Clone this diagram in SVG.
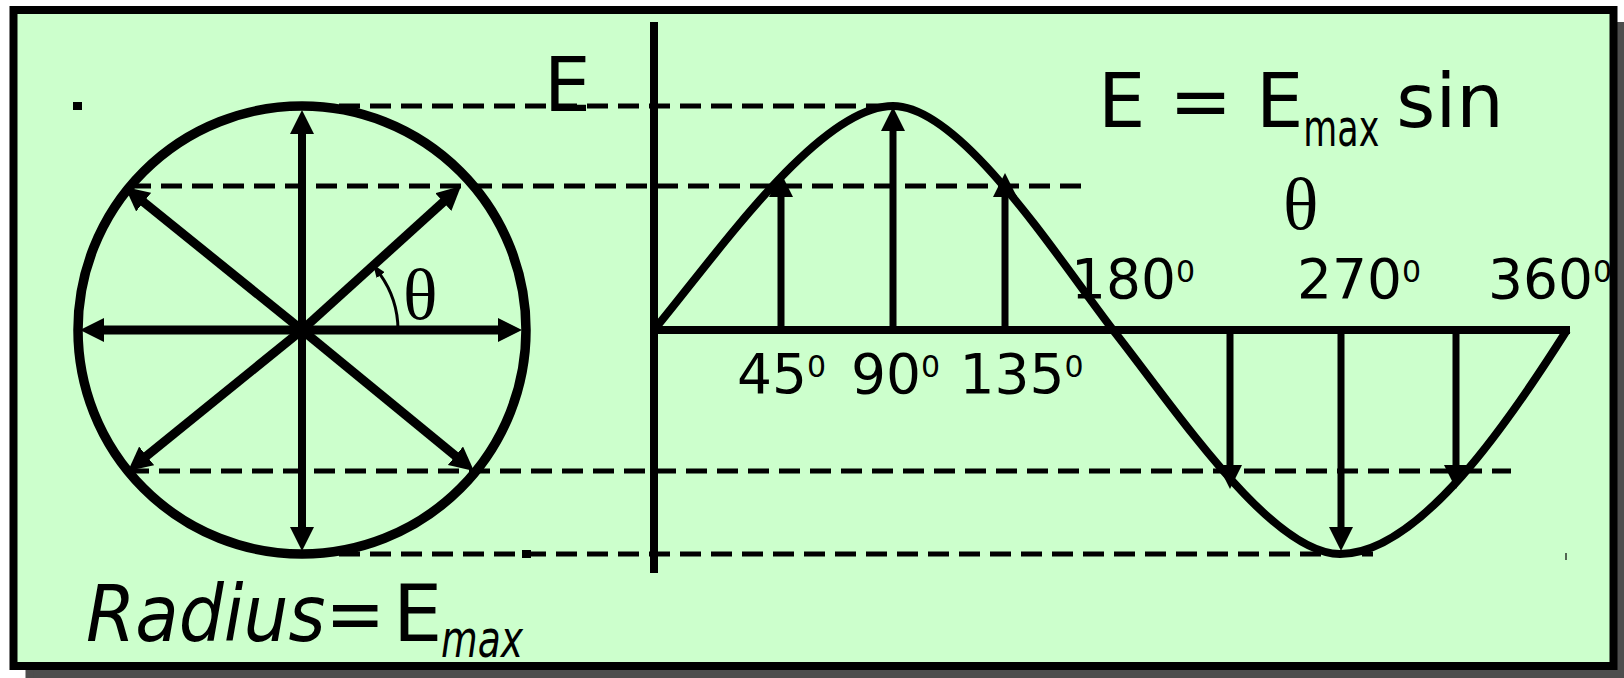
<svg xmlns="http://www.w3.org/2000/svg" width="1624" height="678" viewBox="0 0 1624 678">
<style>
.dash{stroke:#000;stroke-width:5;stroke-dasharray:21 10;fill:none}
.arr{stroke:#000;stroke-width:9;fill:none;marker-end:url(#ah)}
.warr{stroke:#000;stroke-width:7;fill:none;marker-end:url(#ah)}
.axis{stroke:#000;stroke-width:8;fill:none}
.t{font-family:"DejaVu Sans",sans-serif;fill:#000}
.g{font-family:"Liberation Serif",serif;fill:#000}
</style>
<defs>
<marker id="ah" viewBox="0 0 24 24" markerWidth="24" markerHeight="24" markerUnits="userSpaceOnUse" refX="1" refY="12" orient="auto"><path d="M0,0 L24,12 L0,24 z" fill="#000"/></marker>
<marker id="ahs" viewBox="0 0 13 10" markerWidth="13" markerHeight="10" markerUnits="userSpaceOnUse" refX="1" refY="5" orient="auto"><path d="M0,0 L13,5 L0,10 z" fill="#000"/></marker>
</defs>
<g id="frame">
<rect x="29.5" y="26" width="1600" height="656" fill="#4d4d4d" stroke="#4d4d4d" stroke-width="8"/>
<rect x="13.5" y="10" width="1600" height="656" fill="#ccffcc" stroke="#000" stroke-width="8"/>
</g>
<g id="phasor-circle">
<circle cx="302" cy="330" r="224" fill="none" stroke="#000" stroke-width="9.5"/>
</g>
<g id="connectors">
<line class="dash" x1="339" y1="106" x2="885" y2="106"/>
<line class="dash" x1="130" y1="186" x2="1088" y2="186"/>
<line class="dash" x1="128" y1="471" x2="1511" y2="471"/>
<line class="dash" x1="339" y1="554" x2="1373" y2="554"/>
<rect x="73" y="102" width="9" height="8" fill="#000"/>
<rect x="522" y="550" width="9" height="8" fill="#000"/>
<line x1="1566" y1="553" x2="1566" y2="560" stroke="#000" stroke-width="1.2"/>
<line class="arr" x1="302" y1="330" x2="302" y2="133" style="stroke-width:8"/>
<line class="arr" x1="302" y1="330" x2="302" y2="528" style="stroke-width:8"/>
<line class="arr" x1="302" y1="330" x2="499" y2="330"/>
<line class="arr" x1="302" y1="330" x2="103" y2="330"/>
<line class="arr" x1="302" y1="330" x2="444" y2="201.4"/>
<line class="arr" x1="302" y1="330" x2="142.9" y2="201.5"/>
<line class="arr" x1="302" y1="330" x2="145.9" y2="456.5"/>
<line class="arr" x1="302" y1="330" x2="456.2" y2="456.4"/>
<path d="M398,330 A96,96 0 0,0 380.1,274.3" fill="none" stroke="#000" stroke-width="3" marker-end="url(#ahs)"/>
<line class="warr" x1="781" y1="330" x2="781" y2="196"/>
<line class="warr" x1="893" y1="330" x2="893" y2="130"/>
<line class="warr" x1="1005" y1="330" x2="1005" y2="196"/>
<line class="warr" x1="1230" y1="330" x2="1230" y2="466"/>
<line class="warr" x1="1341" y1="330" x2="1341" y2="528"/>
<line class="warr" x1="1456" y1="330" x2="1456" y2="466"/>
</g>
<g id="wave">
<line class="axis" x1="654" y1="22" x2="654" y2="573"/>
<line class="axis" x1="654" y1="330" x2="1570" y2="330"/>
<path d="M654,330 C720,250 820,106 893,106 C960,106 1052,250 1113,330 C1176,410 1271,554 1340,554 C1420,554 1510,420 1567,330" fill="none" stroke="#000" stroke-width="8"/>
</g>
<g id="labels">
<text class="t" x="544" y="111" font-size="74">E</text>
<text class="t" x="1098" y="127" font-size="75" xml:space="preserve">E = E<tspan font-size="51" dy="19" textLength="76" lengthAdjust="spacingAndGlyphs">max</tspan><tspan dx="17" dy="-19">sin</tspan></text>
<text class="g" x="1283" y="229" font-size="74">θ</text>
<text class="g" x="403" y="319" font-size="72">θ</text>
<text class="t" x="737" y="393" font-size="55">45<tspan font-size="30" dy="-16">0</tspan></text>
<text class="t" x="851" y="393" font-size="55">90<tspan font-size="30" dy="-16">0</tspan></text>
<text class="t" x="959.5" y="393" font-size="55">135<tspan font-size="30" dy="-16">0</tspan></text>
<text class="t" x="1071" y="298" font-size="55">180<tspan font-size="30" dy="-16">0</tspan></text>
<text class="t" x="1297" y="298" font-size="55">270<tspan font-size="30" dy="-16">0</tspan></text>
<text class="t" x="1488" y="298" font-size="55">360<tspan font-size="30" dy="-16">0</tspan></text>
<text class="t" x="86" y="641" font-size="78" font-style="italic" textLength="299" lengthAdjust="spacingAndGlyphs">Radius=</text>
<text class="t" x="393" y="641" font-size="78">E</text>
<text class="t" x="441" y="657" font-size="52" font-style="italic" textLength="82" lengthAdjust="spacingAndGlyphs">max</text>
</g>
</svg>
